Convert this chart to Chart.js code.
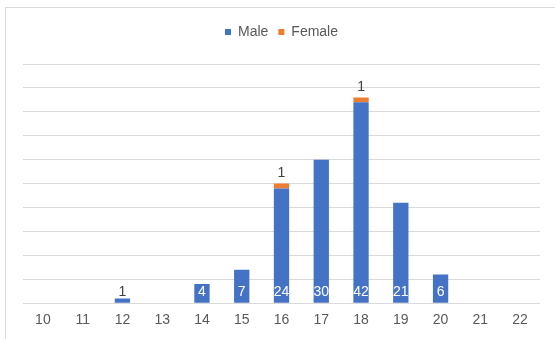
<!DOCTYPE html>
<html>
<head>
<meta charset="utf-8">
<script src="https://cdn.jsdelivr.net/npm/chart.js@4"></script>
<style>
  html, body { margin: 0; padding: 0; background: #fff; overflow: hidden; }
  .frame { position: absolute; left: 5px; top: 7px; width: 560px; height: 340px; border: 1px solid #d9d9d9; box-sizing: border-box; }
  #myChart { position: absolute; left: 0; top: 0; }
</style>
</head>
<body>
<div class="frame"></div>
<canvas id="myChart" width="555" height="339"></canvas>
<script>
// Data
const ages = ['10', '11', '12', '13', '14', '15', '16', '17', '18', '19', '20', '21', '22'];
const male = [null, null, 1, null, 4, 7, 24, 30, 42, 21, 6, null, null];
const female = [null, null, null, null, null, null, 1, null, 1, null, null, null, null];

const FONT = '"Liberation Sans", Arial, sans-serif';
const GREY = '#595959';

// Draw value labels (male at base, female above the bar)
const valueLabels = {
    id: 'valueLabels',
    afterDatasetsDraw(chart) {
        const ctx = chart.ctx;
        const base = chart.scales.y.getPixelForValue(0);
        ctx.save();
        ctx.font = '14px ' + FONT;
        ctx.textAlign = 'center';
        ctx.textBaseline = 'middle';
        chart.getDatasetMeta(0).data.forEach((bar, i) => {
            const v = male[i];
            if (v == null) return;
            const y = base - 11.5;
            ctx.fillStyle = bar.y < y ? '#ffffff' : '#404040';
            ctx.fillText(String(v), bar.x, y);
        });
        chart.getDatasetMeta(1).data.forEach((bar, i) => {
            const v = female[i];
            if (v == null) return;
            ctx.fillStyle = '#404040';
            ctx.fillText(String(v), bar.x, bar.y - 10);
        });
        ctx.restore();
    }
};

// Extra space under the legend
const legendGap = {
    id: 'legendGap',
    beforeInit(chart) {
        const fit = chart.legend.fit;
        chart.legend.fit = function () {
            fit.call(this);
            this.height += 15;
        };
    }
};

const chart = new Chart('myChart', {
    type: 'bar',
    data: {
        labels: ages,
        datasets: [
            { label: 'Male', data: male, backgroundColor: '#4472c4', categoryPercentage: 1, barPercentage: 0.385 },
            { label: 'Female', data: female, backgroundColor: '#ed7d31', categoryPercentage: 1, barPercentage: 0.385 }
        ]
    },
    options: {
        responsive: false,
        animation: false,
        layout: { padding: { left: 23, right: 15, top: 15, bottom: 1 } },
        plugins: {
            legend: {
                labels: {
                    boxWidth: 6, boxHeight: 6, padding: 10,
                    color: GREY, font: { family: FONT, size: 14 }
                }
            },
            tooltip: { enabled: false }
        },
        scales: {
            x: {
                stacked: true,
                grid: { display: false, drawTicks: false },
                border: { display: false },
                ticks: { color: GREY, padding: 9, font: { family: FONT, size: 14 } }
            },
            y: {
                stacked: true,
                min: 0, max: 50,
                grid: { color: '#d9d9d9', drawTicks: false, lineWidth: 1 },
                border: { display: false },
                ticks: { display: false, stepSize: 5 }
            }
        }
    },
    plugins: [valueLabels, legendGap]
});
</script>
</body>
</html>
